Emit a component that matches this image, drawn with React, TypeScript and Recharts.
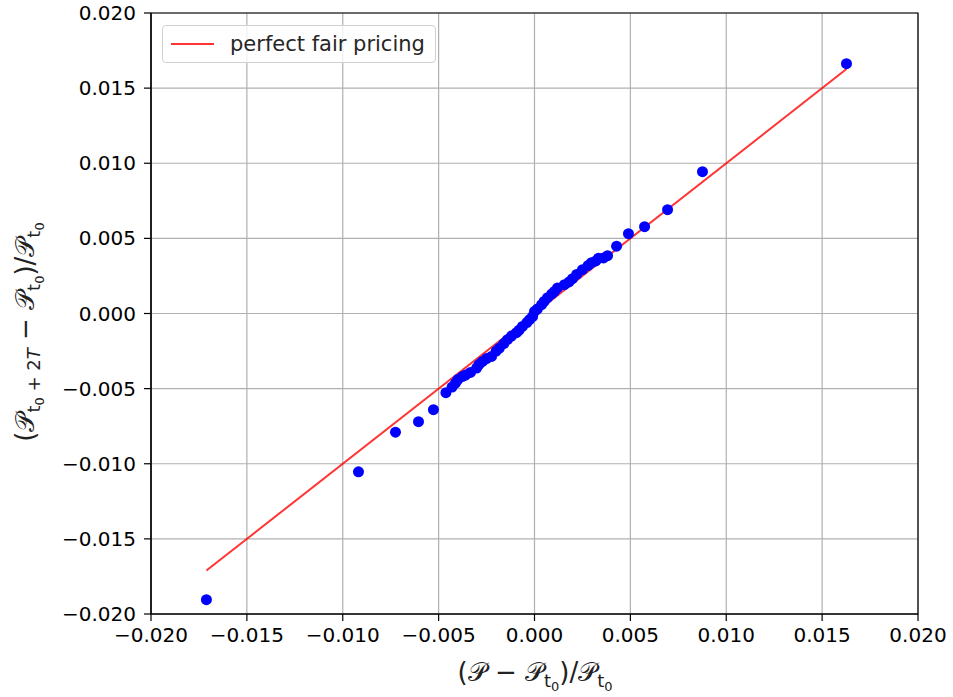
import {
  ScatterChart,
  Scatter,
  XAxis,
  YAxis,
  CartesianGrid,
  Legend,
  ReferenceArea,
} from "recharts";

// relative price change over the window vs. the fair-price estimate
const fairChange = [
  -0.01711, -0.00918, -0.00725, -0.00605, -0.00527, -0.00462, -0.0043, -0.00412,
  -0.004, -0.00375, -0.0036, -0.00334, -0.00302, -0.0029, -0.00271, -0.0025,
  -0.00224, -0.002, -0.00183, -0.0016, -0.00141, -0.0012, -0.00094, -0.0008,
  -0.00063, -0.0004, -0.00026, -0.0001, 0.0, 0.00015, 0.00037, 0.0005, 0.00068,
  0.0009, 0.00104, 0.0012, 0.00156, 0.0018, 0.00198, 0.0022, 0.0025, 0.0028,
  0.00297, 0.0032, 0.00334, 0.0036, 0.00381, 0.00428, 0.0049, 0.00574, 0.00694,
  0.00876, 0.01627,
];
const realisedChange = [
  -0.01905, -0.01054, -0.0079, -0.0072, -0.0064, -0.00527, -0.0049, -0.00463,
  -0.0044, -0.00419, -0.0041, -0.00392, -0.00363, -0.0034, -0.00319, -0.003,
  -0.00286, -0.0025, -0.0023, -0.002, -0.00174, -0.0015, -0.00128, -0.0011,
  -0.00086, -0.0006, -0.00041, -0.0002, 0.00014, 0.0003, 0.00059, 0.0008, 0.00105,
  0.0013, 0.00147, 0.0017, 0.00192, 0.0021, 0.00232, 0.0026, 0.00292, 0.0032,
  0.00338, 0.0035, 0.00368, 0.0037, 0.00385, 0.00448, 0.00531, 0.00578, 0.00691,
  0.00944, 0.01663,
];
const ticks = [-0.02, -0.015, -0.01, -0.005, 0, 0.005, 0.01, 0.015, 0.02];

const points = fairChange.map((x, i) => ({ x, y: realisedChange[i] }));
const lo = Math.min(...fairChange);
const hi = Math.max(...fairChange);
const fairLine = [
  { x: lo, y: lo },
  { x: hi, y: hi },
];

const FONT = "DejaVu Sans, Verdana, sans-serif";
const fmt = (v: number) => (v < 0 ? "\u2212" : "") + Math.abs(v).toFixed(3);

function Dot(props: any) {
  return <circle cx={props.cx} cy={props.cy} r={5.5} fill="#0000ff" />;
}

function LegendBox() {
  return (
    <div
      style={{
        width: 272,
        height: 36,
        border: "1px solid #d0d0d0",
        borderRadius: 4,
        background: "rgba(255,255,255,0.8)",
        display: "flex",
        alignItems: "center",
        fontFamily: FONT,
        fontSize: 21,
        color: "#262626",
        boxSizing: "content-box",
      }}
    >
      <div style={{ width: 43, height: 2, background: "rgba(255,0,0,0.8)", marginLeft: 8 }} />
      <span style={{ marginLeft: 16, lineHeight: 1 }}>perfect fair pricing</span>
    </div>
  );
}

function XLabel() {
  return (
    <text x={535} y={681} textAnchor="middle" fontFamily={FONT} fontSize={26} fill="#222">
      <tspan>(𝒫 − 𝒫</tspan>
      <tspan fontSize={18} dy={6}>t</tspan>
      <tspan fontSize={13} dy={4}>0</tspan>
      <tspan dy={-10}>)/𝒫</tspan>
      <tspan fontSize={18} dy={6}>t</tspan>
      <tspan fontSize={13} dy={4}>0</tspan>
    </text>
  );
}

function YLabel() {
  return (
    <text
      x={34}
      y={332}
      transform="rotate(-90, 34, 332)"
      textAnchor="middle"
      fontFamily={FONT}
      fontSize={26}
      fill="#222"
    >
      <tspan>(𝒫</tspan>
      <tspan fontSize={18} dy={6}>t</tspan>
      <tspan fontSize={13} dy={4}>0</tspan>
      <tspan fontSize={18} dy={-4}> + 2</tspan>
      <tspan fontSize={18} fontStyle="italic">T</tspan>
      <tspan dy={-6}> − 𝒫</tspan>
      <tspan fontSize={18} dy={6}>t</tspan>
      <tspan fontSize={13} dy={4}>0</tspan>
      <tspan dy={-10}>)/𝒫</tspan>
      <tspan fontSize={18} dy={6}>t</tspan>
      <tspan fontSize={13} dy={4}>0</tspan>
    </text>
  );
}

export default function App() {
  const tickStyle = { fill: "#000", fontSize: 20, fontFamily: FONT };
  return (
    <div style={{ position: "absolute", left: 0, top: 0, background: "#fff" }}>
      <ScatterChart width={953} height={697} margin={{ top: 13, right: 35, bottom: 0, left: 0 }}>
        <CartesianGrid stroke="#b0b0b0" strokeWidth={1.2} />
        <XAxis
          type="number"
          dataKey="x"
          domain={[-0.02, 0.02]}
          ticks={ticks}
          tickFormatter={fmt}
          allowDataOverflow
          height={83}
          tickSize={7}
          tickMargin={7}
          tick={tickStyle}
          stroke="#000"
          tickLine={{ stroke: "#000", strokeWidth: 1.2 }}
          axisLine={{ stroke: "#000", strokeWidth: 1.2 }}
          label={{ content: () => <XLabel /> }}
        />
        <YAxis
          type="number"
          dataKey="y"
          domain={[-0.02, 0.02]}
          ticks={ticks}
          tickFormatter={fmt}
          allowDataOverflow
          width={151}
          tickSize={7}
          tickMargin={8}
          tick={tickStyle}
          stroke="#000"
          tickLine={{ stroke: "#000", strokeWidth: 1.2 }}
          axisLine={{ stroke: "#000", strokeWidth: 1.2 }}
          label={{ content: () => <YLabel /> }}
        />
        <ReferenceArea
          x1={-0.02}
          x2={0.02}
          y1={-0.02}
          y2={0.02}
          fill="none"
          stroke="#000"
          strokeWidth={1.2}
          ifOverflow="visible"
        />
        <Scatter
          name="perfect fair pricing"
          data={fairLine}
          line={{ stroke: "rgba(255,0,0,0.8)", strokeWidth: 2 }}
          shape={() => <g />}
          isAnimationActive={false}
        />
        <Scatter data={points} shape={Dot} isAnimationActive={false} legendType="none" />
        <Legend
          layout="vertical"
          align="center"
          verticalAlign="middle"
          content={() => <LegendBox />}
          wrapperStyle={{ position: "absolute", top: 25, left: 162, width: 274, height: 38 }}
        />
      </ScatterChart>
    </div>
  );
}
